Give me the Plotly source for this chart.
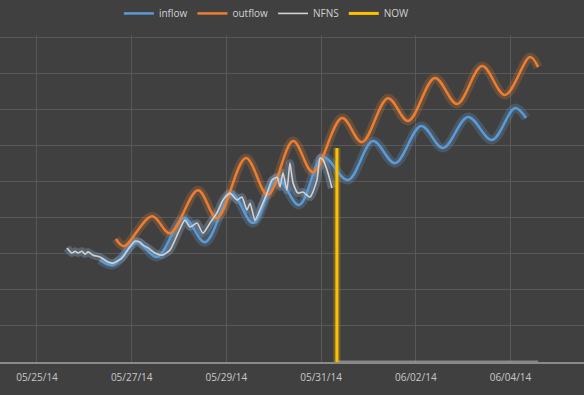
import pandas as pd
import plotly.graph_objects as go

BASE = pd.Timestamp("2014-05-25 00:00")

# hours after 05/25/14 00:00 and flow values (axis units hidden in the original)
outflow_hours = [40.0, 44.0, 58.3, 67.4, 81.6, 91.2, 105.9, 117.0, 129.8, 139.9, 154.6,
                 164.7, 177.9, 188.1, 201.7, 212.9, 225.6, 237.2, 249.9, 254.0]
outflow_vals = [341, 321, 404, 357, 476, 399, 565, 463, 612, 526, 676,
                609, 731, 668, 787, 715, 820, 740, 845, 817]

inflow_hours = [31.9, 38.5, 50.7, 60.8, 74.5, 85.2, 98.8, 109.5, 121.7, 132.8, 145.0,
                157.6, 170.3, 181.5, 194.7, 205.8, 218.5, 230.6, 242.3, 247.9]
inflow_vals = [283, 269, 332, 291, 399, 332, 465, 385, 510, 435, 568,
               504, 612, 551, 654, 593, 679, 615, 704, 676]

nfns_hours = [15.2, 17.7, 19.3, 20.8, 22.8, 24.3, 25.9, 28.4, 31.9, 36.0, 38.5, 43.1, 47.1,
              49.7, 52.2, 53.7, 56.3, 59.8, 63.4, 67.4, 71.5, 75.0, 77.6, 81.1, 84.1, 87.7,
              91.2, 94.3, 97.8, 101.4, 103.9, 106.4, 108.0, 110.5, 113.0, 116.6, 119.1,
              121.7, 123.2, 124.7, 126.7, 128.2, 129.8, 132.3, 134.8, 138.4, 141.9, 143.5,
              145.0, 147.0, 148.5, 149.5]
nfns_vals = [316, 302, 307, 302, 307, 299, 305, 296, 291, 277, 274, 288, 319,
             335, 332, 324, 316, 302, 296, 310, 357, 393, 374, 385, 357, 385,
             413, 449, 468, 449, 457, 421, 440, 393, 421, 468, 504,
             512, 485, 524, 476, 551, 496, 468, 471, 457, 504, 565,
             560, 532, 504, 482]

now_hours = [152.0, 152.0]
now_vals = [0, 593]

baseline_hours = [152.0, 254.0]
baseline_vals = [0, 0]

x_range = ["2014-05-24 05:15", "2014-06-05 13:16"]
y_range = [0, 906]


def to_dt(hours):
    return [BASE + pd.Timedelta(hours=h) for h in hours]


BLUE = "#5b9bd5"
ORANGE = "#ed7d31"
GRAY = "#d2d2d2"
GOLD = "#ffc000"

fig = go.Figure()

series = [
    ("inflow", inflow_hours, inflow_vals, BLUE, "rgba(110,170,230,0.22)", 2.5, 9),
    ("outflow", outflow_hours, outflow_vals, ORANGE, "rgba(240,130,50,0.22)", 2.5, 9),
    ("NFNS", nfns_hours, nfns_vals, GRAY, "rgba(150,190,230,0.28)", 1.6, 8),
]

# glow layers
for name, hrs, vals, col, glow, w, gw in series:
    fig.add_trace(go.Scatter(x=to_dt(hrs), y=vals, mode="lines", showlegend=False,
                             hoverinfo="skip", line=dict(color=glow, width=gw,
                             shape="spline", smoothing=1.0 if name != "NFNS" else 0.6)))
fig.add_trace(go.Scatter(x=to_dt(now_hours), y=now_vals, mode="lines", showlegend=False,
                         hoverinfo="skip", line=dict(color="rgba(255,200,0,0.25)", width=7)))
fig.add_trace(go.Scatter(x=to_dt(baseline_hours), y=baseline_vals, mode="lines",
                         showlegend=False, hoverinfo="skip",
                         line=dict(color="rgba(220,220,220,0.45)", width=3)))

for name, hrs, vals, col, glow, w, gw in series:
    fig.add_trace(go.Scatter(x=to_dt(hrs), y=vals, mode="lines", name=name,
                             line=dict(color=col, width=w, shape="spline",
                                       smoothing=1.0 if name != "NFNS" else 0.6)))

fig.add_trace(go.Scatter(x=to_dt(now_hours), y=now_vals, mode="lines", name="NOW",
                         line=dict(color=GOLD, width=3)))

fig.update_layout(
    width=584, height=395,
    paper_bgcolor="#404040", plot_bgcolor="#404040",
    margin=dict(l=0, r=0, t=35, b=33, autoexpand=False),
    font=dict(family="Open Sans, Liberation Sans, sans-serif", color="#d0d0d0", size=10),
    legend=dict(orientation="h", x=0.457, xanchor="center", y=1.066, yanchor="middle",
                font=dict(size=10, color="#d0d0d0"), bgcolor="rgba(0,0,0,0)",
                traceorder="normal", itemwidth=30),
    showlegend=True,
)
fig.update_xaxes(type="date", range=x_range, tick0="2014-05-25", dtick=2 * 86400000,
                 tickformat="%m/%d/%y", showgrid=True, gridcolor="#585858", gridwidth=1,
                 showline=True, linecolor="#8a8a8a", linewidth=1.5, zeroline=False,
                 ticks="outside", ticklen=5, tickcolor="rgba(0,0,0,0)", automargin=False,
                 tickfont=dict(size=10, color="#c8c8c8"), fixedrange=True)
fig.update_yaxes(range=y_range, dtick=100, showticklabels=False, showgrid=True,
                 gridcolor="#585858", gridwidth=1, zeroline=False, showline=False,
                 automargin=False, fixedrange=True)

fig.write_html("out.html", config={"displayModeBar": False},
               post_script="document.body.style.margin='0';document.body.style.background='#404040';")
